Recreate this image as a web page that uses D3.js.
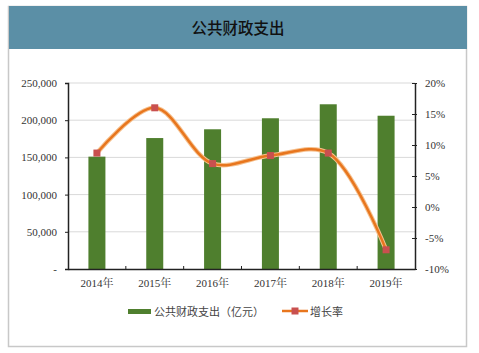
<!DOCTYPE html>
<html><head><meta charset="utf-8">
<script src="https://cdn.jsdelivr.net/npm/d3@7"></script>
<style>body{margin:0;background:#fff}svg{display:block}</style>
</head><body>
<script>
const categories = ["2014年","2015年","2016年","2017年","2018年","2019年"];
const spending = [151000, 176000, 187800, 202600, 221400, 206000];
const growth = [8.7, 16.0, 7.0, 8.3, 8.7, -6.9];
const leftTicks = [0, 50000, 100000, 150000, 200000, 250000];
const rightTicks = [-10, -5, 0, 5, 10, 15, 20];
const title = "公共财政支出";
const seriesNames = ["公共财政支出（亿元）", "增长率"];

(function () {
const W = 479, H = 353;
const svg = d3.select("body").append("svg").attr("width", W).attr("height", H);
const serif = "'Liberation Serif','Noto Serif CJK SC','Noto Sans CJK SC',serif";

// frame
svg.append("rect").attr("x", 8.5).attr("y", 6.5).attr("width", 458).attr("height", 340)
  .attr("fill", "#fff").attr("stroke", "#c8c8c8").attr("stroke-width", 1.5);
svg.append("rect").attr("x", 9).attr("y", 6).attr("width", 458).attr("height", 43).attr("fill", "#5b8fa6");
svg.append("text").attr("x", 238).attr("y", 33.5).attr("text-anchor", "middle")
  .attr("font-family", "'Noto Sans CJK SC',sans-serif").attr("font-size", 15.5).attr("font-weight", 500)
  .attr("fill", "#111").text(title);

const pL = 68, pR = 415, pT = 83, pB = 269;
const x = d3.scaleBand().domain(categories).range([pL, pR]);
const yL = d3.scaleLinear().domain([0, 250000]).range([pB, pT]);
const yR = d3.scaleLinear().domain([-10, 20]).range([pB, pT]);

// grid
svg.append("g").selectAll("line").data(leftTicks.slice(1)).join("line")
  .attr("x1", pL).attr("x2", pR).attr("y1", d => yL(d)).attr("y2", d => yL(d))
  .attr("stroke", "#d9d9d9").attr("stroke-width", 1);

// bars
const bw = 17;
svg.append("g").selectAll("rect").data(spending).join("rect")
  .attr("x", (d, i) => x(categories[i]) + x.bandwidth() / 2 - bw / 2)
  .attr("y", d => yL(d)).attr("width", bw).attr("height", d => pB - yL(d))
  .attr("fill", "#4f7f2e");

// left axis
const fmt = d => d === 0 ? "-" : d3.format(",")(d);
const gl = svg.append("g").attr("transform", `translate(${pL},0)`)
  .call(d3.axisLeft(yL).tickValues(leftTicks).tickFormat(fmt).tickSize(3).tickPadding(8));
gl.select(".domain").attr("stroke", "#222").attr("stroke-width", 1.5);
gl.selectAll(".tick line").attr("stroke", "#222");
gl.selectAll("text").attr("font-family", serif).attr("font-size", 11).attr("fill", "#333");

// right axis
const gr = svg.append("g").attr("transform", `translate(${pR},0)`)
  .call(d3.axisRight(yR).tickValues(rightTicks).tickFormat(d => d + "%").tickSize(0).tickPadding(10));
gr.select(".domain").attr("stroke", "#222").attr("stroke-width", 1.5);
gr.selectAll(".tick").append("line").attr("x1", -3).attr("x2", 2).attr("stroke", "#222");
gr.selectAll("text").attr("font-family", serif).attr("font-size", 11).attr("fill", "#333");

// bottom axis
const gb = svg.append("g").attr("transform", `translate(0,${pB})`)
  .call(d3.axisBottom(x).tickSize(0).tickPadding(10));
gb.select(".domain").attr("stroke", "#222").attr("stroke-width", 1.5);
gb.selectAll("text").attr("font-family", serif).attr("font-size", 11).attr("fill", "#333");
svg.append("g").selectAll("line").data(categories.slice(1)).join("line")
  .attr("x1", d => x(d)).attr("x2", d => x(d)).attr("y1", pB - 3).attr("y2", pB)
  .attr("stroke", "#222");

// line
const pts = growth.map((g, i) => [x(categories[i]) + x.bandwidth() / 2, yR(g)]);
const line = d3.line().curve(d3.curveCatmullRom.alpha(0.5));
svg.append("path").attr("d", line(pts)).attr("fill", "none").attr("stroke", "#f6c18f").attr("stroke-width", 4.5);
svg.append("path").attr("d", line(pts)).attr("fill", "none").attr("stroke", "#e8761e").attr("stroke-width", 2.5);
svg.append("g").selectAll("rect").data(pts).join("rect")
  .attr("x", d => d[0] - 3.5).attr("y", d => d[1] - 3.5).attr("width", 7).attr("height", 7)
  .attr("fill", "#c9504f");

// legend
const ly = 311;
svg.append("rect").attr("x", 128).attr("y", ly - 2).attr("width", 23).attr("height", 5).attr("fill", "#4f7f2e");
svg.append("text").attr("x", 154).attr("y", ly + 4.5).attr("font-family", "'Noto Sans CJK SC',sans-serif")
  .attr("font-size", 11).attr("fill", "#444").text(seriesNames[0]);
svg.append("line").attr("x1", 282).attr("x2", 308).attr("y1", ly).attr("y2", ly).attr("stroke", "#e8761e").attr("stroke-width", 2.5);
svg.append("rect").attr("x", 291.5).attr("y", ly - 3.5).attr("width", 7).attr("height", 7).attr("fill", "#c9504f");
svg.append("text").attr("x", 310).attr("y", ly + 4.5).attr("font-family", "'Noto Sans CJK SC',sans-serif")
  .attr("font-size", 11).attr("fill", "#444").text(seriesNames[1]);
})();
</script>
</body></html>
